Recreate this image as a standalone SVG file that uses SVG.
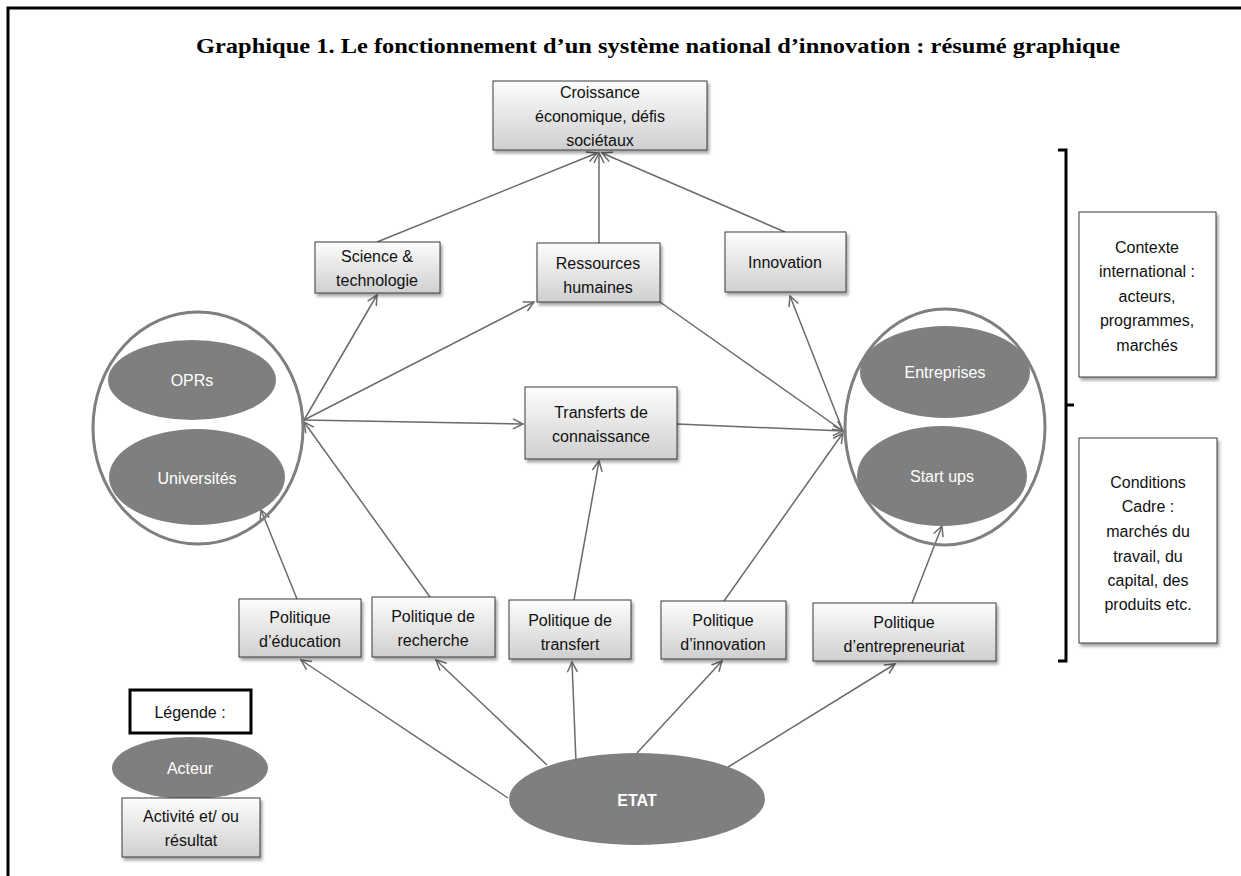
<svg xmlns="http://www.w3.org/2000/svg" width="1241" height="876" viewBox="0 0 1241 876">
<style>
.box{fill:url(#g);stroke:#3a3a3a;stroke-width:1;filter:url(#sh)}
.wbox{fill:#fff;stroke:#3a3a3a;stroke-width:1;filter:url(#sh)}
.t{font-family:"Liberation Sans",Arial,sans-serif;font-size:16px;fill:#111;text-anchor:middle}
.wt{font-family:"Liberation Sans",Arial,sans-serif;font-size:16px;fill:#fff;text-anchor:middle}
.act{fill:#7f7f7f}
.ring{fill:none;stroke:#7f7f7f;stroke-width:3}
.c{stroke:#6a6a6a;stroke-width:1.5;fill:none}
.ca{stroke:#6a6a6a;stroke-width:1.5;fill:none;marker-end:url(#ah)}
.br{stroke:#000;stroke-width:3;fill:none}
</style>
<defs>
<linearGradient id="g" x1="0" y1="0" x2="0" y2="1">
<stop offset="0" stop-color="#fdfdfd"/>
<stop offset="1" stop-color="#cfcfcf"/>
</linearGradient>
<filter id="sh" x="-10%" y="-10%" width="130%" height="140%">
<feDropShadow dx="2" dy="3" stdDeviation="1.5" flood-color="#000" flood-opacity="0.35"/>
</filter>
<marker id="ah" markerUnits="userSpaceOnUse" markerWidth="16" markerHeight="16" refX="11" refY="6" orient="auto">
<path d="M1,1 L11,6 L1,11" fill="none" stroke="#6a6a6a" stroke-width="1.5"/>
</marker>
</defs>
<rect width="1241" height="876" fill="#fff"/>
<path d="M8,876 V8 H1241" fill="none" stroke="#000" stroke-width="3"/>
<text x="658" y="53" text-anchor="middle" font-family="Liberation Serif,'Times New Roman',serif" font-weight="bold" font-size="22" textLength="924" lengthAdjust="spacingAndGlyphs" fill="#000">Graphique 1. Le fonctionnement d’un système national d’innovation : résumé graphique</text>

<g id="connectors">
<line class="ca" x1="377" y1="242" x2="597" y2="153"/>
<line class="ca" x1="599" y1="243" x2="599" y2="153"/>
<line class="ca" x1="785" y1="232" x2="602" y2="153"/>
<line class="ca" x1="304" y1="420" x2="377" y2="295"/>
<line class="ca" x1="304" y1="420" x2="534" y2="302"/>
<line class="ca" x1="304" y1="420" x2="523" y2="424"/>
<line class="ca" x1="660" y1="302" x2="843" y2="431"/>
<line class="ca" x1="677" y1="424" x2="843" y2="431"/>
<line class="ca" x1="843" y1="431" x2="790" y2="296"/>
<line class="ca" x1="297" y1="599" x2="261" y2="510"/>
<line class="ca" x1="430" y1="597" x2="304" y2="422"/>
<line class="ca" x1="574" y1="600" x2="599" y2="461"/>
<line class="ca" x1="724" y1="601" x2="843" y2="433"/>
<line class="ca" x1="912" y1="603" x2="942" y2="526"/>
<line class="ca" x1="508" y1="798" x2="301" y2="660"/>
<line class="ca" x1="547" y1="765" x2="436" y2="660"/>
<line class="ca" x1="577" y1="787" x2="572" y2="662"/>
<line class="ca" x1="637" y1="753" x2="722" y2="661"/>
<line class="ca" x1="728" y1="767" x2="895" y2="664"/>
</g>

<g id="croissance"><rect class="box" x="493" y="81" width="214" height="69"/>
<text class="t" x="600" y="98">Croissance</text><text class="t" x="600" y="122">économique, défis</text><text class="t" x="600" y="146">sociétaux</text></g>
<g id="science"><rect class="box" x="315" y="242" width="125" height="51"/>
<text class="t" x="377" y="262">Science &amp;</text><text class="t" x="377" y="286">technologie</text></g>
<g id="ressources"><rect class="box" x="537" y="243" width="123" height="59"/>
<text class="t" x="598" y="269">Ressources</text><text class="t" x="598" y="293">humaines</text></g>
<g id="innovation"><rect class="box" x="725" y="232" width="121" height="60"/>
<text class="t" x="785" y="268">Innovation</text></g>
<g id="transferts"><rect class="box" x="525" y="387" width="152" height="72"/>
<text class="t" x="601" y="418">Transferts de</text><text class="t" x="601" y="442">connaissance</text></g>

<g id="recherche-publique"><ellipse class="ring" cx="198" cy="428" rx="105" ry="116"/>
<ellipse class="act" cx="192" cy="380" rx="84" ry="40"/><text class="wt" x="192" y="386">OPRs</text>
<ellipse class="act" cx="197" cy="477" rx="88" ry="48"/><text class="wt" x="197" y="484">Universités</text></g>
<g id="entreprises-groupe"><ellipse class="ring" cx="945" cy="427" rx="100" ry="118"/>
<ellipse class="act" cx="945" cy="372" rx="85" ry="46"/><text class="wt" x="945" y="378">Entreprises</text>
<ellipse class="act" cx="942" cy="476" rx="85" ry="50"/><text class="wt" x="942" y="482">Start ups</text></g>

<g id="pol-education"><rect class="box" x="239" y="599" width="122" height="58"/>
<text class="t" x="300" y="623">Politique</text><text class="t" x="300" y="647">d’éducation</text></g>
<g id="pol-recherche"><rect class="box" x="372" y="597" width="123" height="60"/>
<text class="t" x="433" y="622">Politique de</text><text class="t" x="433" y="646">recherche</text></g>
<g id="pol-transfert"><rect class="box" x="509" y="600" width="122" height="59"/>
<text class="t" x="570" y="626">Politique de</text><text class="t" x="570" y="650">transfert</text></g>
<g id="pol-innovation"><rect class="box" x="661" y="601" width="125" height="58"/>
<text class="t" x="723" y="626">Politique</text><text class="t" x="723" y="650">d’innovation</text></g>
<g id="pol-entrepreneuriat"><rect class="box" x="813" y="603" width="183" height="58"/>
<text class="t" x="904" y="628">Politique</text><text class="t" x="904" y="652">d’entrepreneuriat</text></g>

<g id="etat"><ellipse class="act" cx="637" cy="799" rx="128" ry="46"/>
<text class="wt" x="637" y="806" font-size="18" font-weight="bold">ETAT</text></g>

<g id="legende">
<rect x="130" y="690" width="121" height="43" fill="#fff" stroke="#000" stroke-width="3"/>
<text class="t" x="190" y="718">Légende :</text>
<ellipse class="act" cx="190" cy="768" rx="78" ry="31"/><text class="wt" x="190" y="774">Acteur</text>
<rect class="box" x="122" y="798" width="138" height="59"/>
<text class="t" x="191" y="822">Activité et/ ou</text><text class="t" x="191" y="846">résultat</text>
</g>

<g id="accolade"><path class="br" d="M1058,150 H1066 V661 H1058 M1066,405 H1074"/></g>

<g id="contexte"><rect class="wbox" x="1079" y="212" width="137" height="165"/>
<text class="t" x="1147" y="253">Contexte</text><text class="t" x="1147" y="277">international :</text><text class="t" x="1147" y="302">acteurs,</text><text class="t" x="1147" y="326">programmes,</text><text class="t" x="1147" y="351">marchés</text></g>
<g id="conditions"><rect class="wbox" x="1079" y="438" width="138" height="205"/>
<text class="t" x="1148" y="488">Conditions</text><text class="t" x="1148" y="512">Cadre :</text><text class="t" x="1148" y="537">marchés du</text><text class="t" x="1148" y="562">travail, du</text><text class="t" x="1148" y="586">capital, des</text><text class="t" x="1148" y="610">produits etc.</text></g>
</svg>
